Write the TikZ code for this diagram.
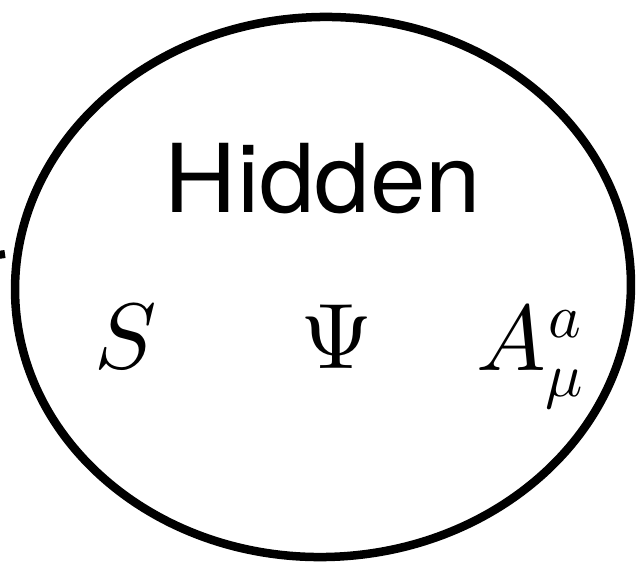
\documentclass[tikz,border=0pt]{standalone}
\usepackage{unicode-math}
\setmathfont{Latin Modern Math}
\setsansfont{TeX Gyre Heros}
\begin{document}
\begin{tikzpicture}[x=1pt,y=-1pt,
  lbl/.style={inner sep=0pt,anchor=base},
  hid/.style={lbl,font=\sffamily\fontsize{95}{95}\selectfont},
  sym/.style={lbl,font=\fontsize{93}{93}\selectfont},
  scr/.style={lbl,anchor=base west,font=\fontsize{62}{62}\selectfont},
  rim/.style={line width=8.5pt}]
\useasboundingbox (0,0) rectangle (644,564);
\node[hid] (hidden) at (323,212) {\scalebox{1.05}[1]{Hidden}};
\node[sym] (s) at (126,368) {$S$};
\node[sym] (psi) at (337,368) {$\Psi$};
\node[sym,anchor=base west] (a) at (476,370) {$A$};
\node[scr] (sup) at (548,337) {$a$};
\node[scr] (sub) at (545,396) {$\mu$};
\draw[rim,rotate around={2:(323,287)}] (323,287) ellipse [x radius=308, y radius=270];
\coordinate (m1) at (-2,255);
\coordinate (m2) at (5,254);
\draw[line width=8pt] (m1) -- (m2);
\end{tikzpicture}
\end{document}
